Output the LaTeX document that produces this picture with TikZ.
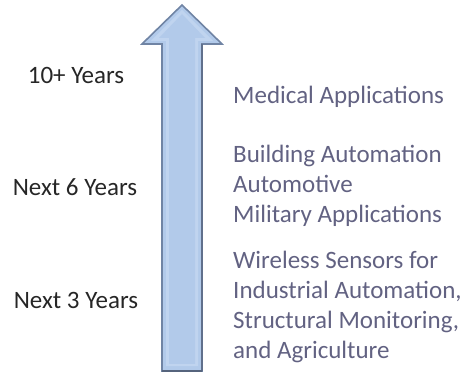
\documentclass[tikz,border=0pt]{standalone}
\usepackage{fontspec}
\setmainfont{Carlito}
\begin{document}
\definecolor{arrowfill}{RGB}{178,202,234}
\definecolor{arrowlight}{RGB}{205,222,244}
\definecolor{arrowedge}{RGB}{112,132,164}
\definecolor{arrowdark}{RGB}{86,100,125}
\definecolor{phasetext}{RGB}{38,38,38}
\definecolor{apptext}{RGB}{98,98,130}
\tikzset{
  phase/.style={text=phasetext, font=\fontsize{25}{30}\selectfont, anchor=center},
  apps/.style={text=apptext, font=\fontsize{25}{30}\selectfont, align=left, anchor=west, inner sep=0pt},
}
\begin{tikzpicture}[x=1pt, y=-1pt]
  \useasboundingbox (0,0) rectangle (469,374);

  % timeline arrow pointing upwards
  \coordinate (tip) at (182,5);
  \coordinate (hl) at (142,44);
  \coordinate (hr) at (222,44);
  \coordinate (sl) at (162,44);
  \coordinate (sr) at (202,44);
  \coordinate (bl) at (162,371);
  \coordinate (br) at (202,371);
  \path[fill=arrowfill, draw=arrowedge, line width=1.6pt, line join=miter]
    (tip) -- (hr) -- (sr) -- (br) -- (bl) -- (sl) -- (hl) -- cycle;
  % soft highlight inside the shaft and head
  \path[fill=arrowlight, opacity=0.55]
    (182,10) -- (213,41) -- (198,41) -- (198,366) -- (166,366) -- (166,41) -- (151,41) -- cycle;
  \path[fill=arrowfill]
    (182,14) -- (205,38) -- (195,38) -- (195,364) -- (169,364) -- (169,38) -- (159,38) -- cycle;
  % darker lower edge
  \draw[arrowdark, line width=2.4pt] (bl) -- (br);
  \draw[arrowdark, line width=1.2pt, opacity=0.6] (br) -- (sr);

  % time horizons
  \node[phase] (p10) at (76,75) {10+ Years};
  \node[phase] (p6)  at (75,187) {Next 6 Years};
  \node[phase] (p3)  at (76,300) {Next 3 Years};

  % application areas
  \node[apps] (a10) at (233,97) {Medical Applications};
  \node[apps] (a6)  at (233,186) {Building Automation\\Automotive\\Military Applications};
  \node[apps] (a3)  at (233,307) {Wireless Sensors for\\Industrial Automation,\\Structural Monitoring,\\and Agriculture};
\end{tikzpicture}
\end{document}
